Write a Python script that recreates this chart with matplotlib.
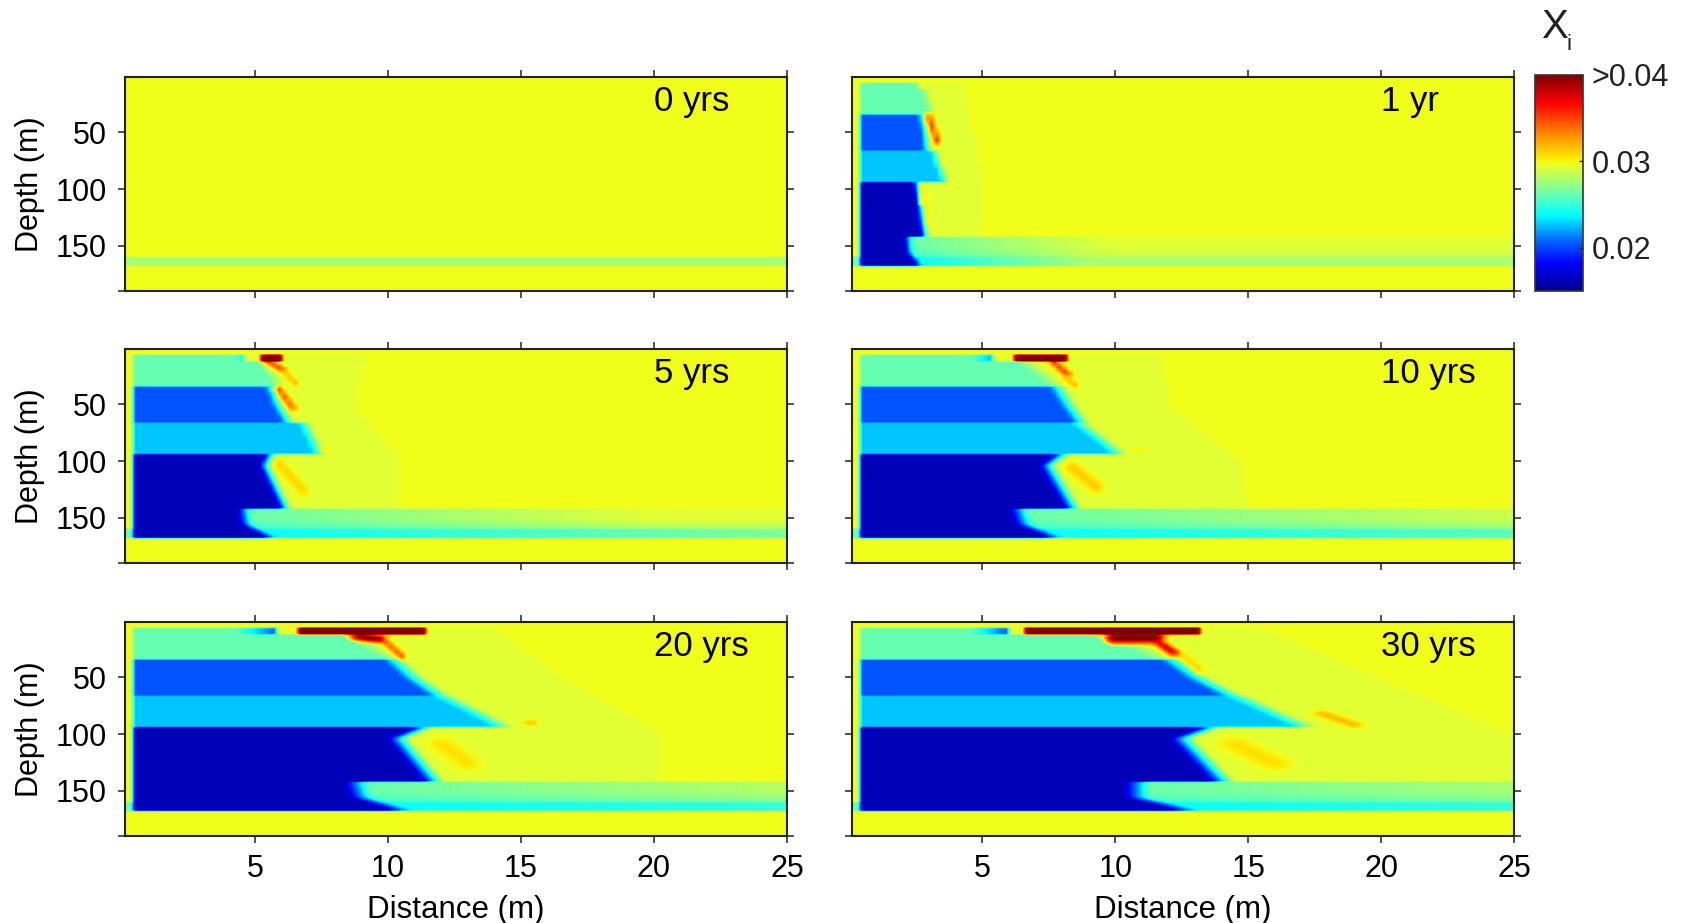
import numpy as np
import matplotlib
matplotlib.use("Agg")
import matplotlib.pyplot as plt
from matplotlib.colors import LinearSegmentedColormap

plt.rcParams["font.family"] = ["Liberation Sans", "DejaVu Sans"]

W, H = 1684, 923

# values, panels in order 0, 1, 5, 10, 20, 30 yrs
labels = ["0 yrs", "1 yr", "5 yrs", "10 yrs", "20 yrs", "30 yrs"]
band_vals = [0.0262, 0.0203, 0.0227, 0.0162, 0.0162]
band_depths = [[13, 24, 35], [35, 50, 66], [66, 80, 95], [95, 104, 143], [143, 156, 168]]
band_tops = [35, 66, 95, 143]

# front of each band at its three depths
fronts = [
    [0] * 15,
    [2.7, 2.85, 3.0, 2.6, 2.7, 2.8, 3.05, 3.25, 3.5, 2.4, 2.45, 2.7, 2.05, 2.1, 2.5],
    [5.0, 5.4, 5.7, 5.35, 5.6, 6.0, 6.6, 6.9, 7.2, 5.3, 5.1, 5.9, 4.3, 4.4, 5.35],
    [6.3, 7.0, 7.5, 7.5, 7.9, 8.4, 8.3, 9.1, 9.9, 7.6, 7.1, 8.1, 6.0, 6.2, 7.4],
    [8.3, 9.0, 9.9, 9.8, 10.5, 11.5, 11.6, 12.8, 14.0, 10.8, 9.9, 11.3, 8.3, 8.5, 10.1],
    [8.9, 10.5, 11.4, 11.7, 12.6, 13.9, 14.1, 15.4, 16.8, 13.0, 12.0, 13.6, 10.3, 10.3, 12.3],
]
fringe = [0.1, 0.3, 0.5, 0.7, 0.9, 1.0]

# outer edge of the pale plume
plume_depths = [7, 50, 100, 143]
plume_x = [
    [0, 0, 0, 0],
    [4.4, 4.7, 5.1, 5.1],
    [9.2, 8.7, 10.5, 10.5],
    [11.8, 12.0, 14.7, 15.0],
    [14.0, 16.5, 20.3, 20.3],
    [15.5, 20.0, 25.0, 25.0],
]

# mint shelf under the plume, 143-160 m
shelf_end = [0, 10, 20, 25, 25, 25]
shelf_end_val = [0.0298, 0.0294, 0.0294, 0.0288, 0.0282, 0.0278]

# thin strip, 160-168 m
strip_start = [0.0278, 0.0240, 0.0240, 0.0240, 0.0240, 0.0240]
strip_stop_x = [25, 9, 25, 25, 25, 25]
strip_end = [0.0278, 0.0278, 0.0268, 0.0258, 0.0250, 0.0250]
strip_left = [0.0278, 0.0265, 0.0265, 0.0265, 0.0265, 0.0265]

# top row 7-13 m: mint until tip_a, fading to tip_val at tip_b, red between red_a and red_b
tip_a = [0, 2.7, 4.2, 4.6, 4.2, 4.5]
tip_b = [0, 2.7, 4.7, 5.5, 5.9, 6.0]
tip_val = [0.0262, 0.0262, 0.0235, 0.0215, 0.0200, 0.0200]
red_a = [0, 0, 5.2, 6.2, 6.6, 6.7]
red_b = [0, 0, 6.0, 8.3, 11.4, 13.2]

# hot streaks: x0, depth0, x1, depth1, peak, half width x, half width depth
spots = [
    [],
    [(3.0, 37, 3.3, 57, 0.036, 0.18, 6), (2.75, 99, 2.95, 126, 0.0305, 0.15, 6)],
    [(5.4, 11, 6.0, 19, 0.036, 0.2, 4), (6.0, 19, 6.5, 31, 0.032, 0.15, 5),
     (5.9, 37, 6.4, 53, 0.035, 0.2, 5), (7.6, 90, 7.7, 90, 0.0303, 0.3, 3),
     (5.9, 103, 6.8, 126, 0.0312, 0.3, 8)],
    [(7.7, 13, 8.2, 23, 0.036, 0.25, 4), (8.1, 25, 8.5, 33, 0.032, 0.2, 4),
     (10.8, 90, 11.0, 90, 0.0303, 0.3, 3), (8.4, 106, 9.3, 123, 0.0315, 0.4, 8)],
    [(8.9, 14, 9.6, 16, 0.042, 0.45, 5), (9.9, 19, 10.5, 31, 0.035, 0.2, 5),
     (15.3, 90, 15.4, 90, 0.0318, 0.3, 4), (12.0, 109, 13.0, 126, 0.0308, 0.7, 9)],
    [(10.0, 15, 11.5, 15, 0.043, 0.5, 7), (11.5, 17, 12.2, 28, 0.039, 0.3, 5),
     (12.4, 28, 13.2, 43, 0.0312, 0.2, 5), (17.8, 82, 19.0, 92, 0.032, 0.5, 4),
     (14.5, 109, 16.0, 126, 0.0308, 0.9, 9)],
]

cbar_ticks = [0.02, 0.03, 0.04]
cbar_labels = ["0.02", "0.03", ">0.04"]
xticks = [5, 10, 15, 20, 25]
yticks = [50, 100, 150, 190]
ylabs = ["50", "100", "150", ""]

vmin, vmax = 0.015, 0.04
bg = 0.0298
plume_val = 0.02945
mint = 0.0262
band_start = 0.38

cmap = LinearSegmentedColormap.from_list("xi", [
    (0.00, "#00008f"), (0.13, "#0000ff"), (0.24, "#0070ff"), (0.35, "#00ffff"),
    (0.44, "#60ffb8"), (0.53, "#b8ff60"), (0.58, "#e6ff30"), (0.592, "#f0ff1a"),
    (0.62, "#ffe600"), (0.72, "#ff9000"), (0.87, "#ff0000"), (1.00, "#800000"),
])

xs = np.arange(0.1, 25.01, 0.2)
ds = np.arange(1, 191, 2.0)


def make_field(i):
    f = np.full((len(ds), len(xs)), bg)
    front = np.array(fronts[i], dtype=float).reshape(5, 3)
    for j, d in enumerate(ds):
        row = f[j]
        if d < 7 or d >= 168:
            continue
        if fronts[i][0] > 0 and d < 143:
            row[xs < np.interp(d, plume_depths, plume_x[i])] = plume_val
        x0 = front[4][2]
        strip = np.interp(xs, [x0, max(strip_stop_x[i], x0 + 0.1)], [strip_start[i], strip_end[i]])
        if d >= 160:
            row[:] = strip
        elif d >= 143 and shelf_end[i] > 0:
            sx = np.interp(d, band_depths[4], front[4])
            row[:] = np.interp(xs, [sx, shelf_end[i]], [mint, shelf_end_val[i]])
            k = np.clip((d - 151) / 10, 0, 1) * 0.5
            row[:] = row * (1 - k) + strip * k
        if d < 13:
            if fronts[i][0] > 0:
                mask = xs < tip_b[i]
                row[mask] = np.interp(xs[mask], [tip_a[i], tip_b[i]], [mint, tip_val[i]])
                if red_b[i] > 0:
                    row[(xs > red_a[i]) & (xs < red_b[i])] = 0.0415
        else:
            b = int(np.searchsorted(band_tops, d, side="right"))
            fx = np.interp(d, band_depths[b], front[b])
            t = np.clip((xs - fx) / fringe[i], 0, 1)
            row[:] = band_vals[b] * (1 - t) + row * t
        # left column stays yellow apart from the strip
        row[xs < band_start] = strip_left[i] if d >= 160 else bg
    for x0, d0, x1, d1, peak, wx, wd in spots[i]:
        for s in np.linspace(0, 1, 12):
            cx, cd = x0 + s * (x1 - x0), d0 + s * (d1 - d0)
            xx, dd = np.meshgrid((xs - cx) / wx, (ds - cd) / wd)
            w = np.clip(1 - np.hypot(xx, dd), 0, 1)
            hot = plume_val + (peak - plume_val) * w
            f = np.where(w > 0, np.maximum(f, hot), f)
    return f


def px_axes(x0, y0, x1, y1):
    return fig.add_axes([x0 / W, 1 - y1 / H, (x1 - x0) / W, (y1 - y0) / H])


fig = plt.figure(figsize=(W / 100, H / 100), dpi=100)

col_x = [(124.5, 787), (852, 1514)]
row_y = [(77, 291), (349, 563), (622, 836)]

for i in range(6):
    r, c = i // 2, i % 2
    ax = px_axes(col_x[c][0], row_y[r][0], col_x[c][1], row_y[r][1])
    im = ax.imshow(make_field(i), extent=[0, 25, 190, 0], aspect="auto", cmap=cmap,
                   vmin=vmin, vmax=vmax, interpolation="bilinear", interpolation_stage="data")
    ax.set_xlim(0.1, 25)
    ax.set_ylim(190, 1)
    ax.set_xticks(xticks)
    ax.set_yticks(yticks)
    ax.tick_params(top=True, right=True, length=5, width=1.2, color="#333333", labelsize=22, pad=8)
    ax.set_yticklabels(ylabs if c == 0 else [""] * 4)
    ax.set_xticklabels(xticks if r == 2 else [""] * 5)
    if c == 0:
        ax.set_ylabel("Depth (m)", fontsize=22, labelpad=7)
    if r == 2:
        ax.set_xlabel("Distance (m)", fontsize=22.5, labelpad=8)
    for s in ax.spines.values():
        s.set_linewidth(1.5)
        s.set_color("#222222")
    ax.text(0.799, 0.885, labels[i], transform=ax.transAxes, fontsize=25, ha="left", va="center")

cax = px_axes(1535, 75, 1583, 291)
cb = fig.colorbar(im, cax=cax, ticks=cbar_ticks)
cb.ax.set_yticklabels(cbar_labels)
cb.ax.tick_params(direction="in", length=3, width=1, labelsize=22, pad=6, colors="#222222")
cb.outline.set_linewidth(1.2)
cb.outline.set_edgecolor("#333333")

fig.text(1541 / W, 1 - 27 / H, "X", fontsize=29, ha="left", va="center", color="#222222")
fig.text(1566 / W, 1 - 45 / H, "i", fontsize=16, ha="left", va="center", color="#222222")

fig.savefig("out.png", dpi=100)
